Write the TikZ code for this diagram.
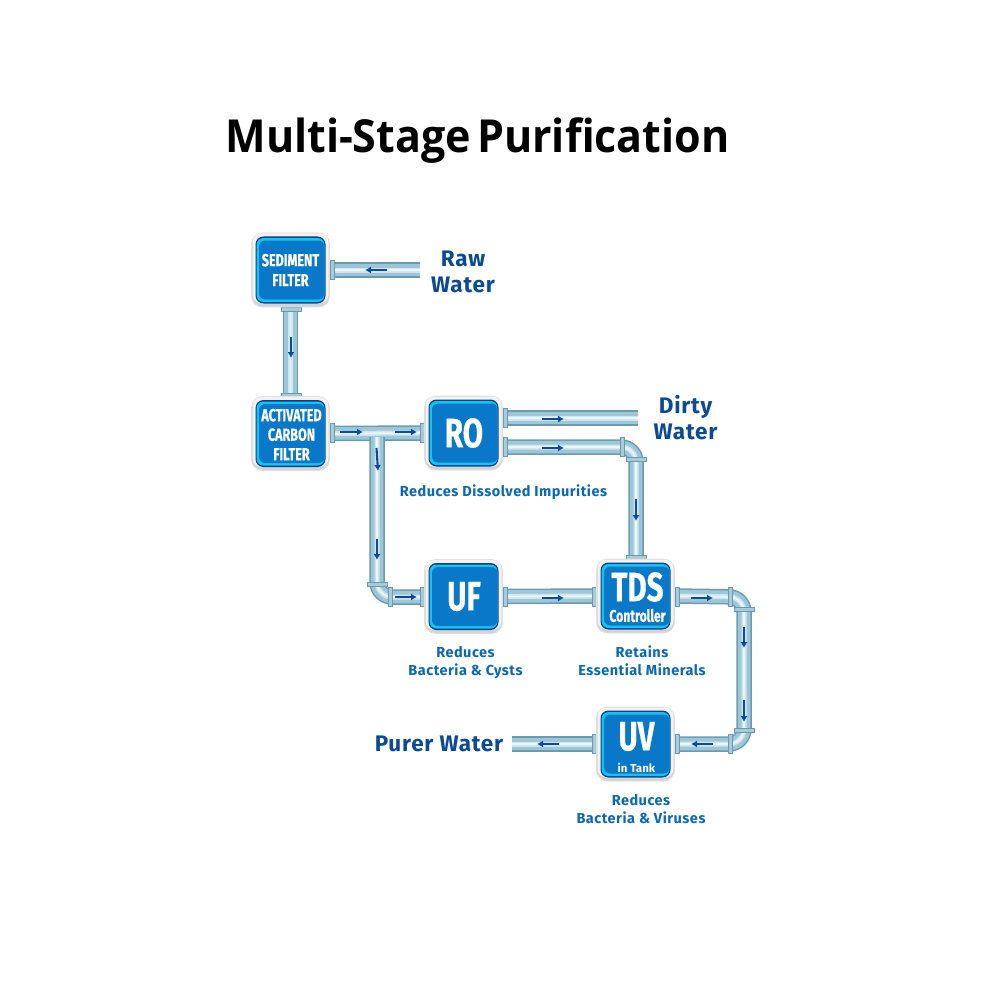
\documentclass[tikz,border=0pt]{standalone}
\usepackage{fontspec}
\setmainfont{Open Sans}
\newfontfamily\titlef[FakeStretch=0.945,WordSpace=0.55]{Open Sans}
\newfontfamily\din[LetterSpace=3.5]{Fira Sans}
\newfontfamily\dinplain{Fira Sans}
\newfontfamily\dincond[FakeStretch=0.72,FakeBold=0.4]{Fira Sans}
\usetikzlibrary{arrows.meta}
\definecolor{pipeA}{HTML}{6A9AB0}
\definecolor{pipeB}{HTML}{9DC6D6}
\definecolor{pipeC}{HTML}{CFE6EE}
\definecolor{flangeC}{HTML}{A9CBD8}
\definecolor{navy}{HTML}{0C3F8C}
\definecolor{cyanE}{HTML}{14C4F0}
\definecolor{boxB}{HTML}{0A78C8}
\definecolor{arrowB}{HTML}{0C4A9E}
\definecolor{labelD}{HTML}{0C4A94}
\definecolor{labelL}{HTML}{0A68B4}
\definecolor{frameL}{HTML}{F3F2F0}
\tikzset{
 framebox/.style={draw=black!12,fill=black!17,line width=.7pt,rounded corners=11pt,minimum width=78pt,minimum height=74pt,inner sep=0pt},
 anchorbox/.style={minimum width=78pt,minimum height=74pt,inner sep=0pt},
 framelight/.style={fill=frameL,rounded corners=9pt},
 fl/.style={fill=flangeC,draw=pipeA,line width=.3pt},
 flow/.style={draw=arrowB,line width=2.1pt,-{Latex[length=6pt,width=7pt]}},
 boxtext/.style={text=white,font=\dincond\bfseries,align=center,inner sep=0pt},
 rawlabel/.style={text=labelD,font={\din\fontsize{22.5}{26}\selectfont\bfseries},align=center},
 smalllabel/.style={text=labelL,font={\din\fontsize{14.5}{18}\selectfont\bfseries},align=center}
}
\newcommand{\pipe}[1]{%
 \draw[pipeA,line width=15.5pt,rounded corners=15pt] #1;
 \draw[pipeB,line width=12.5pt,rounded corners=15pt] #1;
 \draw[pipeC,line width=5pt,rounded corners=15pt] #1;
 \draw[white!60!pipeC,line width=1.6pt,rounded corners=15pt] #1;
}
\newcommand{\flv}[1]{\draw[fl] (#1) ++(-2,-9.5) rectangle ++(4,19);}
\newcommand{\flh}[1]{\draw[fl] (#1) ++(-10,-2) rectangle ++(20,4);}
% name, centre, inner text
\newcommand{\stage}[3]{%
 \node[framebox] (#1) at (#2) {};
 \fill[framelight] (#2) ++(-38,-36.5) rectangle ++(76,70);
 \fill[navy,rounded corners=8pt] (#2) ++(-35,-33.5) rectangle ++(70,67);
 \fill[cyanE,rounded corners=7pt] (#2) ++(-34,-32) rectangle ++(68,64);
 \fill[boxB,rounded corners=6pt] (#2) ++(-31.5,-29.5) rectangle ++(65.5,59);
 #3
}
\begin{document}
\begin{tikzpicture}[x=1pt,y=-1pt]
\useasboundingbox (0,0) rectangle (1000,1000);
\fill[white] (0,0) rectangle (1000,1000);
\node[font={\titlef\fontsize{45.5}{50}\selectfont\bfseries},text=black] (title) at (477.5,141) {Multi-Stage Purification};

% named layout points
\coordinate (rawend) at (420,270);
\coordinate (tee) at (377,437);
\coordinate (elbowUF) at (377,597);
\coordinate (dirtyend) at (638,418);
\coordinate (elbowRO) at (636,447);
\coordinate (elbowTR) at (744,597);
\coordinate (elbowBR) at (744,744);
\coordinate (purerend) at (512,744);

% anchors first: frames are drawn on top of the pipes
\path node[anchorbox] (sedA) at (290.5,270) {}
      node[anchorbox] (actA) at (290.5,433.5) {}
      node[anchorbox] (roA) at (463.5,433) {}
      node[anchorbox] (ufA) at (463.5,596.5) {}
      node[anchorbox] (tdsA) at (635.5,596) {}
      node[anchorbox] (uvA) at (635.5,744) {};

% pipes
\pipe{(sedA.east) -- (rawend)}
\pipe{(sedA.south) -- (actA.north)}
\pipe{(actA.east) -- (roA.west)}
\pipe{(tee) -- (elbowUF) -- (ufA.west |- elbowUF)}
\pipe{(roA.east |- dirtyend) -- (dirtyend)}
\pipe{(roA.east |- elbowRO) -- (elbowRO) -- (elbowRO |- tdsA.north)}
\pipe{(ufA.east) -- (tdsA.west)}
\pipe{(tdsA.east) -- (elbowTR) -- (elbowBR) -- (uvA.east)}
\pipe{(uvA.west) -- (purerend)}

% flanges
\flv{332,270} \flv{422,433} \flv{332,433} \flv{505,418} \flv{505,447}
\flv{622,447} \flv{390,597} \flv{422,597} \flv{505,597} \flv{594,597}
\flv{677,597} \flv{730,597} \flv{677,744} \flv{730,744} \flv{594,744}
\flh{291,309} \flh{291,395} \flh{636,459} \flh{636,557} \flh{744,609} \flh{744,730} \flh{377,584}

% stages
\stage{sed}{290.5,270}{\node[boxtext,font={\dincond\bfseries\fontsize{17.5}{20}\selectfont}] (sedT) at (290.5,270) {SEDIMENT\\FILTER};}
\stage{act}{290.5,433.5}{\node[boxtext,font={\dincond\bfseries\fontsize{17.5}{19.5}\selectfont}] (actT) at (291.5,434.5) {ACTIVATED\\CARBON\\FILTER};}
\stage{ro}{463.5,433}{\node[boxtext,font={\dincond\bfseries\fontsize{41}{42}\selectfont}] (roT) at (464,433) {RO};}
\stage{uf}{463.5,596.5}{\node[boxtext,font={\dincond\bfseries\fontsize{41}{42}\selectfont}] (ufT) at (464,596.5) {UF};}
\stage{tds}{635.5,596}{%
 \node[boxtext,font={\dincond\bfseries\fontsize{41}{42}\selectfont}] (tdsT) at (637.5,587) {TDS};
 \node[boxtext,font={\dincond\bfseries\fontsize{17}{20}\selectfont}] (tdsS) at (637.5,615.5) {Controller};}
\stage{uv}{635.5,744}{%
 \node[boxtext,font={\dincond\bfseries\fontsize{41}{42}\selectfont}] (uvT) at (636.5,736.5) {UV};
 \node[boxtext,font={\dinplain\bfseries\fontsize{11.5}{14}\selectfont}] (uvS) at (636.5,768) {in Tank};}

% flow arrows
\draw[flow] (387,270) -- (365,270);
\draw[flow] (291,337) -- (291,358);
\draw[flow] (340,432) -- (363,432);
\draw[flow] (395,432) -- (417,432);
\draw[flow] (376.5,448) -- (378,471);
\draw[flow] (377,539) -- (377,560);
\draw[flow] (395,597) -- (417,597);
\draw[flow] (542,419) -- (564,419);
\draw[flow] (542,448) -- (564,448);
\draw[flow] (636,499) -- (636,521);
\draw[flow] (542,598) -- (564,598);
\draw[flow] (691,598) -- (713,598);
\draw[flow] (744,627) -- (744,648);
\draw[flow] (744,700) -- (744,722);
\draw[flow] (713,744) -- (691,744);
\draw[flow] (559,744) -- (537,744);

% labels
\node[rawlabel] (rawL) at (463,271.5) {Raw\\Water};
\node[rawlabel] (dirtyL) at (685.5,417.5) {Dirty\\Water};
\node[rawlabel] (pureL) at (439,744) {Purer Water};
\node[smalllabel] (roL) at (503.5,492) {Reduces Dissolved Impurities};
\node[smalllabel] (ufL) at (465.5,663) {Reduces\\Bacteria \& Cysts};
\node[smalllabel] (tdsL) at (642,661) {Retains\\Essential Minerals};
\node[smalllabel] (uvL) at (641,809) {Reduces\\Bacteria \& Viruses};
\end{tikzpicture}
\end{document}
